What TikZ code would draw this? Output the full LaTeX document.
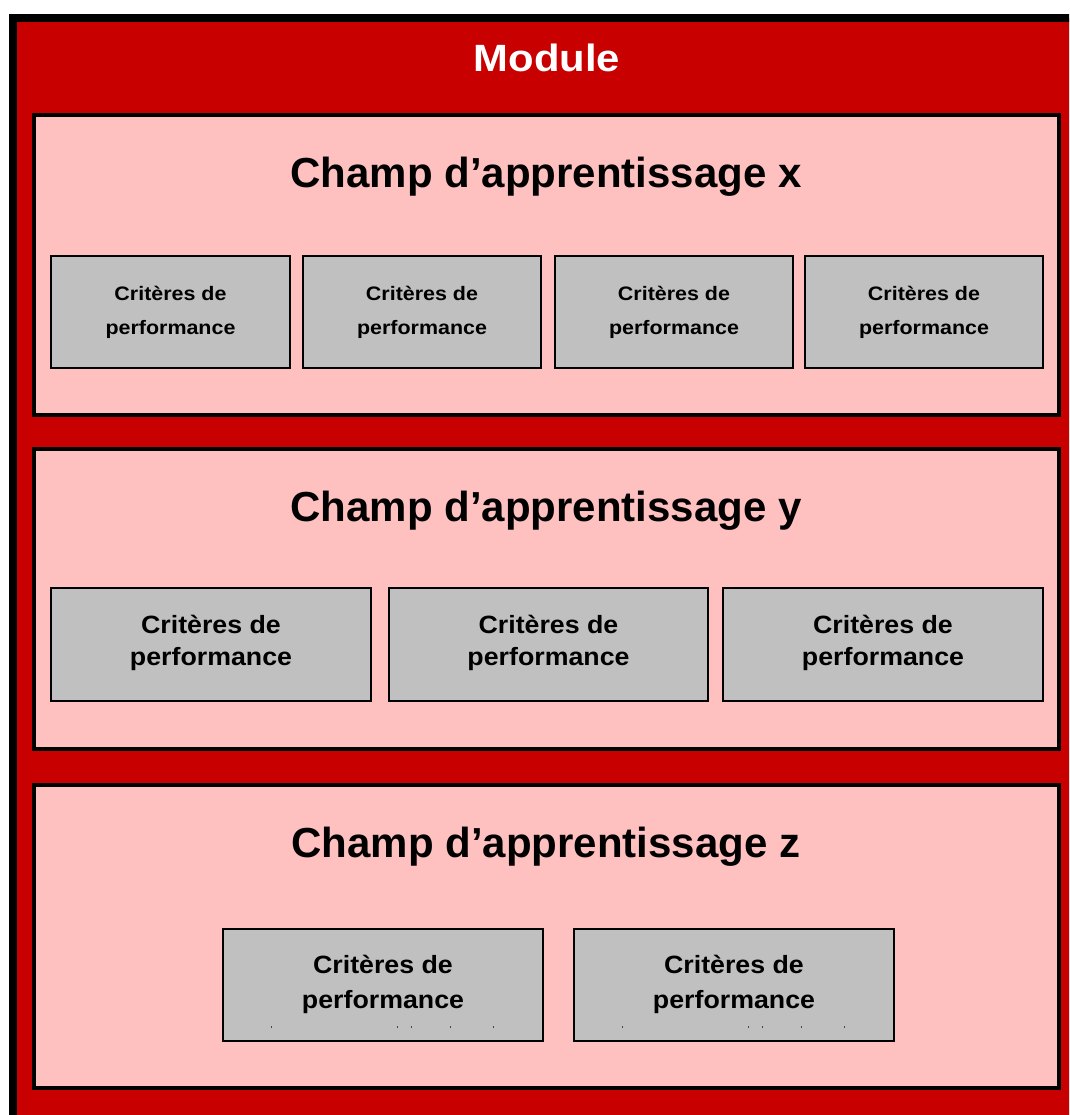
\documentclass[tikz,border=0pt]{standalone}
\usepackage{graphicx}
\usepackage{fontspec}
\setmainfont{Liberation Sans}
\definecolor{modred}{RGB}{200,0,0}
\definecolor{champpink}{RGB}{255,192,192}
\definecolor{critgray}{RGB}{192,192,192}
\definecolor{markgray}{RGB}{70,70,70}
\newcommand{\wideA}[1]{\scalebox{1.1}[1]{#1}}
\newcommand{\wideB}[1]{\scalebox{1.1}[1]{#1}}
\newcommand{\wideC}[1]{\scalebox{1.07}[1]{#1}}
\begin{document}
\begin{tikzpicture}[x=1pt,y=-1pt,
  champbox/.style={draw=black,line width=4pt,fill=champpink,inner sep=0pt,minimum width=1025pt},
  critbox/.style={draw=black,line width=2pt,fill=critgray,inner sep=0pt},
  modtitle/.style={anchor=base,text=white,font=\bfseries\fontsize{38}{44}\selectfont,inner sep=0pt},
  champtitle/.style={anchor=base,font=\bfseries\fontsize{42}{50}\selectfont,inner sep=0pt},
  smalllbl/.style={anchor=base,font=\bfseries\fontsize{19.5}{23}\selectfont,inner sep=0pt},
  biglbl/.style={anchor=base,font=\bfseries\fontsize{25}{29}\selectfont,inner sep=0pt},
  tick/.style={fill=markgray}]
\useasboundingbox (0,0) rectangle (1069,1115);
\clip (0,0) rectangle (1069,1115);
\fill[white] (0,0) rectangle (1069,1115);
% module frame
\draw[line width=8pt,fill=modred] (12.5,18.5) rectangle (1090,1140);
\node[modtitle] (module) at (547,72) {\wideA{Module}};
% champ boxes
\node[champbox,minimum height=300pt] (cx) at (546.5,265) {};
\node[champbox,minimum height=300pt] (cy) at (546.5,599) {};
\node[champbox,minimum height=303pt] (cz) at (546.5,936.5) {};
\node[champtitle] (tx) at (546,188) {Champ d’apprentissage x};
\node[champtitle] (ty) at (546,521) {Champ d’apprentissage y};
\node[champtitle] (tz) at (546,857) {Champ d’apprentissage z};
% row x
\foreach \n/\cx/\w in {1/170.5/239,2/422/238,3/674/238,4/924/238}{
  \node[critbox,minimum width=\w pt,minimum height=112pt] (x\n) at (\cx,312) {};
  \node[smalllbl] (x\n a) at (\cx,300) {\wideB{Critères de}};
  \node[smalllbl] (x\n b) at (\cx,334) {\wideB{performance}};
}
% row y
\foreach \n/\cx/\w in {1/211/320,2/548.5/319,3/883/320}{
  \node[critbox,minimum width=\w pt,minimum height=113pt] (y\n) at (\cx,644.5) {};
  \node[biglbl] (y\n a) at (\cx,633) {\wideC{Critères de}};
  \node[biglbl] (y\n b) at (\cx,665) {\wideC{performance}};
}
% row z
\foreach \n/\cx/\off in {1/383/0,2/734/351}{
  \node[critbox,minimum width=320pt,minimum height=112pt] (z\n) at (\cx,985) {};
  \node[biglbl] (z\n a) at (\cx,973) {\wideC{Critères de}};
  \node[biglbl] (z\n b) at (\cx,1008) {\wideC{performance}};
  \foreach \t in {271.7,397.7,411.7,450.3,493.7}{
    \fill[tick] (\t+\off-0.7,1025.5) rectangle (\t+\off+0.7,1027.5);
  }
}
\end{tikzpicture}
\end{document}
